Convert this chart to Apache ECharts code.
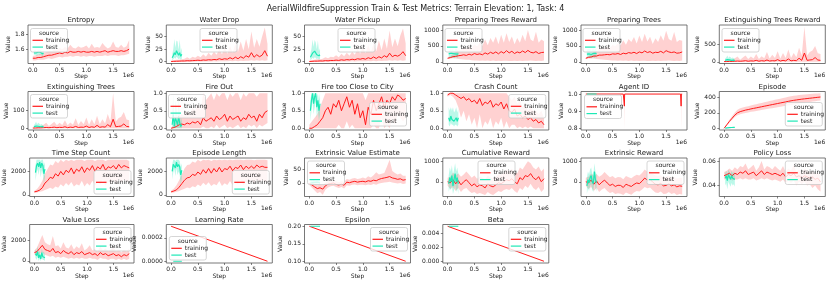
<!DOCTYPE html>
<html><head><meta charset="utf-8">
<script src="https://cdn.jsdelivr.net/npm/echarts@6/dist/echarts.min.js"></script>
<style>html,body{margin:0;padding:0;background:#fff}#c{width:831px;height:283px}</style>
</head><body><div id="c"></div><script>
const MAIN_TITLE = 'AerialWildfireSuppression Train & Test Metrics: Terrain Elevation: 1, Task: 4';
const TITLES = ['Entropy','Water Drop','Water Pickup','Preparing Trees Reward','Preparing Trees','Extinguishing Trees Reward','Extinguishing Trees','Fire Out','Fire too Close to City','Crash Count','Agent ID','Episode','Time Step Count','Episode Length','Extrinsic Value Estimate','Cumulative Reward','Extrinsic Reward','Policy Loss','Value Loss','Learning Rate','Epsilon','Beta'];
const X_TICKS = [0, 0.5, 1.0, 1.5];
// steps in units of 1e6
const STEPS = [0,0.05,0.1,0.15,0.2,0.25,0.3,0.35,0.4,0.45,0.5,0.55,0.6,0.65,0.7,0.75,0.8,0.85,0.9,0.95,1.0,1.05,1.1,1.15,1.2,1.25,1.3,1.35,1.4,1.45,1.5,1.55,1.6,1.65,1.7,1.75,1.8];
const TEST_STEPS = [0.02,0.04,0.06,0.08,0.1,0.12,0.14,0.16,0.18,0.2];
const ZEROS37 = [0,0,0,0,0,0,0,0,0,0,0,0,0,0,0,0,0,0,0,0,0,0,0,0,0,0,0,0,0,0,0,0,0,0,0,0,0];
const ZEROS10 = [0,0,0,0,0,0,0,0,0,0];

const ENTROPY_TRAIN = [1.48,1.48,1.49,1.49,1.50,1.51,1.52,1.52,1.53,1.54,1.55,1.54,1.56,1.55,1.57,1.56,1.56,1.57,1.56,1.57,1.56,1.56,1.57,1.56,1.57,1.56,1.57,1.58,1.56,1.57,1.58,1.57,1.57,1.58,1.57,1.58,1.60];
const ENTROPY_HI = [1.51,1.52,1.53,1.54,1.55,1.56,1.58,1.57,1.60,1.59,1.62,1.60,1.63,1.61,1.66,1.62,1.61,1.64,1.62,1.63,1.65,1.61,1.67,1.62,1.63,1.62,1.68,1.64,1.61,1.63,1.70,1.63,1.62,1.66,1.62,1.64,1.72];
const ENTROPY_LO = [1.45,1.45,1.46,1.46,1.46,1.47,1.48,1.47,1.48,1.49,1.50,1.49,1.50,1.50,1.51,1.50,1.51,1.51,1.50,1.51,1.50,1.51,1.51,1.50,1.51,1.51,1.51,1.52,1.51,1.52,1.52,1.52,1.51,1.52,1.52,1.53,1.54];
const ENTROPY_TEST = [1.55,1.56,1.55,1.54,1.56,1.55,1.56,1.55,1.54,1.55];
const ENTROPY_TEST_HI = [1.58,1.59,1.58,1.57,1.59,1.58,1.59,1.58,1.57,1.58];
const ENTROPY_TEST_LO = [1.52,1.53,1.52,1.51,1.53,1.52,1.53,1.52,1.51,1.52];

const WDROP_TRAIN = [0.5,0.8,1,1.2,1.5,1.5,2,1.8,2.2,2.5,3,2.5,3.5,3,4,3.5,4.5,4,6,4.5,6,5,8,5.5,9,6,10,7,12,9,18,9,14,10,13,22,11];
const WDROP_HI = [2,3,4,4,5,6,9,6,10,8,12,9,15,10,18,12,20,14,25,15,28,16,32,18,35,20,40,22,45,25,60,28,45,30,50,68,35];
const WDROP_LO = [0,0,0,0,0,0,0,0,0,0,0.5,0,0.5,0.5,0.5,0.5,1,0.5,1,1,1,1,1.5,1,2,1,2,1.5,2,2,3,2,3,2,3,2,3];
const WDROP_TEST = [8,12,18,14,22,19,13,18,11,15];
const WDROP_TEST_HI = [14,25,45,28,42,40,24,44,20,28];
const WDROP_TEST_LO = [3,5,8,6,10,8,5,7,4,6];

const WPICK_TRAIN = [0.5,0.8,1.2,1.2,1.6,1.4,2.2,1.8,2.5,2.4,3.2,2.6,3.8,3,4.2,3.6,5,4,6,5,6.5,5,8,6,9.5,6.5,10,7.5,12,9,17,10,13,11,14,20,12];
const WPICK_HI = [2,3,4,5,5,6,9,7,10,9,13,9,16,11,18,12,20,14,26,16,29,17,33,19,36,21,42,23,46,26,62,29,46,31,52,66,36];
const WPICK_LO = [0,0,0,0,0,0,0,0,0,0,0.5,0,0.5,0.5,0.5,0.5,1,0.5,1,1,1,1,1.5,1,2,1,2,1.5,2,2,3,2,3,2,3,2,3];
const WPICK_TEST = [9,13,17,15,21,18,14,17,12,14];
const WPICK_TEST_HI = [15,26,44,30,43,38,25,42,21,27];
const WPICK_TEST_LO = [3,5,8,6,9,8,5,7,4,6];

const PTR_TRAIN = [110,130,160,170,190,200,220,200,240,210,260,230,250,220,280,240,300,260,310,250,320,270,350,280,330,260,310,280,340,290,360,300,280,320,260,290,300];
const PTR_HI = [130,170,250,300,350,380,450,400,500,420,550,480,600,500,700,520,750,600,800,550,850,600,900,620,800,550,750,600,850,650,1000,700,650,950,600,700,650];
const PTR_LO = [90,100,110,100,90,80,70,60,60,50,40,40,30,40,30,40,20,40,20,30,20,30,30,20,20,30,20,30,20,30,30,40,30,20,30,20,40];
const PTR_TEST = [250,230,270,240,260,220,250,280,240,260];
const PTR_TEST_HI = [380,350,420,360,400,330,390,420,360,380];
const PTR_TEST_LO = [130,120,150,130,140,110,130,150,120,140];

const PT_TRAIN = [110,140,150,180,180,210,210,220,230,220,250,240,260,230,270,250,290,270,300,260,310,280,340,290,320,270,300,290,330,280,350,310,290,310,270,280,310];
const PT_HI = [130,180,240,320,330,400,430,420,480,440,530,500,580,520,680,540,720,620,780,580,830,620,880,640,790,560,740,620,840,660,980,720,660,940,620,690,660];
const PT_LO = [90,100,100,100,90,80,70,60,55,50,40,40,35,40,30,40,25,40,20,30,20,30,30,20,20,30,25,30,20,30,30,40,30,20,30,25,40];
const PT_TEST = [240,260,250,270,230,250,260,240,270,250];
const PT_TEST_HI = [370,400,380,410,350,380,400,360,410,380];
const PT_TEST_LO = [120,140,130,150,110,130,140,120,150,130];

const ETR_TRAIN = [5,5,10,10,15,20,15,20,30,15,25,20,40,15,30,20,50,20,30,25,60,20,40,25,80,25,40,30,100,40,250,40,50,60,120,50,40];
const ETR_HI = [15,20,40,60,100,150,60,120,180,80,150,90,220,80,160,100,280,90,200,110,300,90,250,110,350,110,250,130,400,180,1000,180,280,320,450,240,220];
const ETR_TEST = [40,50,60,45,55,50,40,50,45,30];
const ETR_TEST_HI = [90,120,180,110,150,130,100,120,100,70];
const ETR_TEST_LO = [10,15,20,12,18,15,10,15,12,8];

const ET_TRAIN = [1,1,2,2,3,4,3,4,6,3,5,4,8,3,6,4,10,4,6,5,12,4,8,5,16,5,8,6,20,8,50,8,10,12,24,10,8];
const ET_HI = [3,4,8,12,20,30,12,24,36,16,30,18,44,16,32,20,56,18,40,22,60,18,50,22,70,22,50,26,80,36,195,36,56,64,90,48,44];
const ET_TEST = [8,10,12,9,11,10,8,10,9,6];
const ET_TEST_HI = [18,24,36,22,30,26,20,24,20,14];
const ET_TEST_LO = [2,3,4,2,4,3,2,3,2,2];

const FO_TRAIN = [0,0.02,0.05,0.1,0.12,0.1,0.15,0.12,0.18,0.15,0.2,0.1,0.3,0.2,0.25,0.3,0.2,0.35,0.25,0.3,0.4,0.2,0.35,0.25,0.3,0.35,0.2,0.3,0.25,0.4,0.3,0.35,0.2,0.4,0.3,0.45,0.5];
const FO_HI = [0,0.1,0.2,0.3,0.4,0.35,0.5,0.4,0.6,0.5,0.7,0.5,1,0.8,0.9,1,0.8,1,0.9,1,1,0.8,1,0.9,1,1,0.8,1,0.9,1,1,1,0.9,1,1,1,1];
const FO_LO = [0,0,0,0,0,0,0,0,0,0,0,0,0.05,0,0,0.05,0,0.1,0,0.05,0.1,0,0.05,0,0.05,0.1,0,0.05,0,0.1,0.05,0.1,0,0.1,0.05,0.1,0.15];
const FO_TEST = [0.1,0.4,0.05,0.3,0.2,0.1,0.35,0.15,0.05,0.1];
const FO_TEST_HI = [0.3,1,0.2,0.8,0.6,0.3,0.9,0.5,0.2,0.3];

const FC_TRAIN = [0,0,0.05,0.1,0.2,0.3,0.5,0.6,0.4,0.7,0.6,0.8,0.5,0.7,0.9,0.6,0.8,0.4,0.7,0.3,0.5,0.1,0.6,0.4,0.8,0.5,0.7,0.9,0.6,0.8,0.7,0.9,0.8,0.95,0.9,0.8,0.85];
const FC_HI = [0.1,0.2,0.3,0.4,0.6,0.8,1,1,1,1,1,1,1,1,1,1,1,1,1,1,1,0.8,1,1,1,1,1,1,1,1,1,1,1,1,1,1,1];
const FC_LO = [0,0,0,0,0,0,0,0,0,0,0,0.1,0,0,0.2,0,0.1,0,0,0,0,0,0,0,0.1,0,0,0.3,0,0.1,0,0.3,0.1,0.4,0.3,0.2,0.3];
const FC_TEST = [0.5,0.8,1.0,0.7,0.9,1.0,0.6,0.8,0.5,0.7];
const FC_TEST_HI = [0.8,1,1,1,1,1,0.9,1,0.8,1];
const FC_TEST_LO = [0.2,0.5,0.8,0.4,0.6,0.8,0.3,0.5,0.2,0.4];

const CC_TRAIN = [0.95,1,1,0.95,0.9,0.85,0.9,0.8,0.85,0.75,0.8,0.7,0.85,0.65,0.75,0.7,0.8,0.6,0.7,0.65,0.75,0.55,0.7,0.5,0.45,0.55,0.35,0.4,0.3,0.35,0.25,0.3,0.2,0.25,0.15,0.2,0.1];
const CC_HI = [1,1,1,1,1,1,1,1,1,1,1,1,1,1,1,1,1,1,1,1,1,1,1,0.9,0.8,0.9,0.7,0.8,0.6,0.7,0.5,0.6,0.5,0.5,0.4,0.5,0.3];
const CC_LO = [0.9,0.95,0.9,0.8,0.6,0.3,0.5,0.2,0.4,0.1,0.3,0,0.4,0,0.2,0.1,0.3,0,0.2,0.1,0.3,0,0.2,0,0.1,0.1,0,0.05,0,0.05,0,0.05,0,0,0,0,0];
const CC_TEST = [0.3,0.2,0.35,0.25,0.3,0.2,0.25,0.3,0.2,0.3];
const CC_TEST_HI = [0.6,0.5,0.6,0.5,0.6,0.45,0.5,0.6,0.45,0.55];
const CC_TEST_LO = [0.1,0.05,0.15,0.1,0.1,0.05,0.1,0.1,0.05,0.1];

const AGENT_STEPS = [0,0.7,0.715,0.72,0.725,1.77,1.775,1.78,1.785,1.8];
const AGENT_TRAIN = [1,1,1,0.93,1,1,1,0.93,1,1];
const AGENT_HI = [1,1,1,1,1,1,1,1,1,1];
const AGENT_LO = [1,1,1,0.792,1,1,1,0.792,1,1];
const AGENT_TEST = [1,1,1,1,1,1,1,1,1,1];

const EP_TRAIN = [0,45,90,130,170,200,215,225,235,242,250,257,264,271,278,285,292,299,306,313,320,327,334,341,348,355,361,366,371,376,380,384,388,392,396,400,404];
const EP_HI = [0,55,110,160,205,240,258,268,278,286,295,303,311,319,327,335,343,351,359,367,375,383,391,399,406,413,419,424,429,433,437,440,443,446,448,450,452];
const EP_LO = [0,35,75,110,145,170,180,190,198,205,212,218,224,230,236,242,248,254,260,266,272,278,284,290,296,302,308,314,320,325,330,335,340,345,350,355,360];
const EP_TEST = [1,3,5,7,8,9,10,11,12,12];

const TSC_TRAIN = [250,300,400,600,1000,1200,1500,1400,1800,1600,2000,1700,2100,1900,2300,1800,2200,2000,2400,1900,2300,2100,2500,2000,2400,2200,2600,2100,2400,2300,2500,2200,2600,2300,2500,2400,2300];
const TSC_HI = [350,500,800,1200,1800,2200,2600,2500,2900,2700,3000,2800,3000,2900,3000,2900,3000,3000,3000,2900,3000,3000,3000,2900,3000,3000,3000,2900,3000,3000,3000,3000,3000,3000,3000,3000,2900];
const TSC_LO = [150,200,250,300,400,500,600,500,700,600,900,700,1000,800,1100,700,900,800,1200,700,1000,800,1200,800,1100,900,1300,800,1100,1000,1300,900,1400,1000,1300,1100,1200];
const TSC_TEST = [1900,2500,2700,2400,2800,2300,2700,2500,1800,2200];
const TSC_TEST_HI = [2500,3000,3000,3000,3000,2900,3000,3000,2500,2800];
const TSC_TEST_LO = [1200,1800,2200,1700,2300,1500,2100,1800,1000,1500];

const EL_TRAIN = [250,320,420,650,950,1250,1450,1500,1750,1650,1950,1750,2150,1850,2250,1850,2250,1950,2350,1950,2250,2150,2450,2050,2350,2250,2550,2150,2450,2250,2450,2250,2550,2350,2450,2350,2350];
const EL_HI = [350,520,820,1250,1750,2250,2550,2600,2850,2750,3000,2850,3000,2950,3000,2900,3000,2950,3000,2950,3000,2950,3000,2950,3000,3000,3000,2950,3000,3000,3000,2950,3000,3000,3000,3000,2950];
const EL_LO = [150,200,260,320,420,520,620,560,720,640,880,720,1020,820,1080,740,920,820,1180,740,980,840,1180,820,1080,920,1280,820,1120,980,1280,920,1380,1020,1280,1120,1180];
const EL_TEST = [2000,2600,2700,2300,2800,2400,2600,2400,1700,2100];
const EL_TEST_HI = [2600,3000,3000,2900,3000,3000,3000,2900,2400,2700];
const EL_TEST_LO = [1300,1900,2200,1600,2300,1700,2000,1700,900,1400];

const EVE_TRAIN = [0,-5,-12,-18,-15,-20,-8,-2,0,2,-3,-5,-2,-6,5,3,6,8,5,7,8,6,10,8,12,10,15,18,20,22,25,20,18,15,17,12,14];
const EVE_HI = [5,2,-2,-6,-3,-6,4,8,10,12,8,5,8,6,16,14,18,20,16,18,22,18,26,22,30,40,32,35,38,60,85,45,38,32,36,28,28];
const EVE_LO = [-5,-15,-25,-35,-30,-40,-22,-14,-10,-8,-12,-16,-12,-18,-6,-8,-4,-3,-6,-4,-4,-6,-3,-5,-2,-4,0,2,4,5,6,4,2,0,2,-2,0];
const EVE_TEST = [2,5,3,6,4,2,5,3,4,2];
const EVE_TEST_HI = [8,12,10,14,10,8,12,9,10,8];
const EVE_TEST_LO = [-4,-2,-4,-2,-3,-4,-2,-4,-3,-4];

const CR_TRAIN = [0,-50,100,-100,50,-150,0,100,-50,-200,-100,-250,-150,-200,-300,-100,-200,-250,-150,-50,-100,0,100,50,150,0,-100,200,100,300,250,400,200,100,250,0,150];
const CR_HI = [200,250,450,300,400,250,350,500,350,200,300,150,250,200,100,300,200,150,250,350,350,450,600,500,650,450,400,700,600,800,1000,900,700,600,750,500,650];
const CR_LO = [-200,-350,-250,-450,-300,-500,-350,-300,-450,-550,-500,-600,-550,-600,-650,-500,-600,-650,-550,-450,-500,-400,-350,-400,-300,-450,-550,-300,-400,-200,-300,-100,-300,-400,-250,-500,-350];
const CR_TEST = [-100,200,0,300,-200,100,400,0,200,-100];
const CR_TEST_HI = [300,700,500,800,300,600,900,500,700,400];
const CR_TEST_LO = [-500,-300,-400,-200,-600,-400,-100,-500,-300,-600];

const ER_TRAIN = [0,-50,80,-120,40,-150,-20,80,-60,-180,-120,-230,-170,-180,-280,-120,-180,-230,-130,-60,-90,30,180,80,120,-20,-120,-150,-80,-200,-180,-100,-200,-150,-250,-200,-220];
const ER_HI = [200,250,400,280,380,250,330,480,340,220,280,170,230,220,120,280,220,170,270,340,310,430,600,480,520,380,300,280,320,200,250,300,200,250,150,200,180];
const ER_LO = [-200,-350,-250,-450,-300,-500,-380,-300,-450,-550,-500,-600,-560,-580,-650,-520,-580,-630,-530,-450,-480,-380,-250,-320,-280,-420,-520,-550,-480,-600,-580,-500,-600,-550,-650,-600,-620];
const ER_TEST = [-200,100,-50,200,300,0,-100,500,100,-50];
const ER_TEST_HI = [200,500,350,600,700,400,300,900,500,350];
const ER_TEST_LO = [-600,-300,-450,-200,-100,-400,-500,100,-300,-450];

const PL_TRAIN = [0.048,0.049,0.05,0.048,0.05,0.049,0.051,0.05,0.052,0.049,0.05,0.051,0.048,0.05,0.052,0.049,0.051,0.05,0.049,0.05,0.049,0.048,0.05,0.047,0.049,0.048,0.05,0.047,0.048,0.046,0.048,0.047,0.046,0.047,0.045,0.046,0.043];
const PL_HI = [0.051,0.052,0.054,0.052,0.055,0.053,0.056,0.055,0.058,0.053,0.055,0.057,0.052,0.055,0.060,0.053,0.056,0.055,0.053,0.056,0.054,0.052,0.056,0.051,0.054,0.052,0.057,0.051,0.053,0.050,0.054,0.052,0.050,0.052,0.049,0.051,0.048];
const PL_LO = [0.045,0.046,0.046,0.044,0.045,0.045,0.046,0.045,0.046,0.045,0.045,0.046,0.044,0.045,0.046,0.045,0.046,0.045,0.044,0.045,0.044,0.043,0.045,0.042,0.044,0.042,0.044,0.040,0.043,0.041,0.043,0.040,0.041,0.038,0.040,0.037,0.035];
const PL_TEST = [0.046,0.048,0.044,0.049,0.047,0.045,0.048,0.046,0.047,0.045];
const PL_TEST_HI = [0.050,0.052,0.049,0.053,0.051,0.049,0.052,0.050,0.051,0.049];
const PL_TEST_LO = [0.040,0.042,0.037,0.043,0.041,0.039,0.042,0.040,0.041,0.039];

const VL_TRAIN = [800,900,1200,1500,1100,1000,900,1200,800,900,700,1000,800,700,900,600,800,700,900,600,700,800,600,700,500,800,600,700,500,600,700,500,600,400,600,500,700];
const VL_HI = [1000,1300,1900,2500,1800,1600,1500,2400,1400,1500,1200,1800,1300,1200,1600,1100,1400,1200,1700,1000,1200,1500,1000,1200,900,1400,1000,1200,900,1100,1300,900,1100,800,1100,900,1200];
const VL_LO = [600,600,700,800,600,500,400,500,300,400,300,400,300,200,300,200,300,200,300,200,200,300,200,200,100,300,200,200,100,200,200,100,200,100,200,100,200];
const VL_TEST = [700,500,900,300,600,200,800,400,500,300];
const VL_TEST_HI = [1100,900,1400,700,1000,500,1200,800,900,600];
const VL_TEST_LO = [300,100,400,0,200,0,300,100,100,0];

const SCHED_STEPS = [0, 1.8];
const LR_TRAIN = [0.0003, 0];
const LR_TEST_STEPS = [0.04, 0.2];
const LR_TEST = [0, 0];
const EPS_TRAIN = [0.2, 0.1];
const SCHED_TEST_STEPS = [0.02, 0.2];
const EPS_TEST = [0.2, 0.2];
const BETA_TRAIN = [0.005, 0];
const BETA_TEST = [0.005, 0.005];

// y tick values per panel
const Y_TICKS = [[1.6,1.8],[0,25,50],[0,25,50],[0,500,1000],[0,500,1000],[0,500],[0,100],[0,0.5,1.0],[0,0.5,1.0],[0,0.5,1.0],[0.8,0.9,1.0],[0,200,400],[0,2000],[0,2000],[0,50],[0,1000],[0,1000],[0.04,0.06],[0,2000],[0,0.0002],[0.10,0.15,0.20],[0,0.002,0.004]];

const S = STEPS, T = TEST_STEPS;
const PANELS = [
 {x:S,y:ENTROPY_TRAIN,lo:ENTROPY_LO,hi:ENTROPY_HI,tx:T,ty:ENTROPY_TEST,tlo:ENTROPY_TEST_LO,thi:ENTROPY_TEST_HI,dec:1,ymin:1.41,ymax:1.92,gap:12,leg:[30.5,28.5]},
 {x:S,y:WDROP_TRAIN,lo:WDROP_LO,hi:WDROP_HI,tx:T,ty:WDROP_TEST,tlo:WDROP_TEST_LO,thi:WDROP_TEST_HI,dec:0,ymin:-3.5,ymax:73,gap:10.5,leg:[200,28.5]},
 {x:S,y:WPICK_TRAIN,lo:WPICK_LO,hi:WPICK_HI,tx:T,ty:WPICK_TEST,tlo:WPICK_TEST_LO,thi:WPICK_TEST_HI,dec:0,ymin:-3.5,ymax:73,gap:10.5,leg:[338,28.5]},
 {x:S,y:PTR_TRAIN,lo:PTR_LO,hi:PTR_HI,tx:T,ty:PTR_TEST,tlo:PTR_TEST_LO,thi:PTR_TEST_HI,dec:0,ymin:-55,ymax:1160,gap:16,leg:[445,28.5]},
 {x:S,y:PT_TRAIN,lo:PT_LO,hi:PT_HI,tx:T,ty:PT_TEST,tlo:PT_TEST_LO,thi:PT_TEST_HI,dec:0,ymin:-55,ymax:1160,gap:16,leg:[583,28.5]},
 {x:S,y:ETR_TRAIN,lo:ZEROS37,hi:ETR_HI,tx:T,ty:ETR_TEST,tlo:ETR_TEST_LO,thi:ETR_TEST_HI,dec:0,ymin:-50,ymax:1050,gap:13.5,leg:[722,28.5]},
 {x:S,y:ET_TRAIN,lo:ZEROS37,hi:ET_HI,tx:T,ty:ET_TEST,tlo:ET_TEST_LO,thi:ET_TEST_HI,dec:0,ymin:-10,ymax:205,gap:14,leg:[30.5,94.5]},
 {x:S,y:FO_TRAIN,lo:FO_LO,hi:FO_HI,tx:T,ty:FO_TEST,tlo:ZEROS10,thi:FO_TEST_HI,dec:1,ymin:-0.05,ymax:1.05,gap:12,leg:[168.5,94.5]},
 {x:S,y:FC_TRAIN,lo:FC_LO,hi:FC_HI,tx:T,ty:FC_TEST,tlo:FC_TEST_LO,thi:FC_TEST_HI,dec:1,ymin:-0.05,ymax:1.05,gap:12.5,leg:[369.5,102.5]},
 {x:S,y:CC_TRAIN,lo:CC_LO,hi:CC_HI,tx:T,ty:CC_TEST,tlo:CC_TEST_LO,thi:CC_TEST_HI,dec:1,ymin:-0.05,ymax:1.05,gap:12.5,leg:[508.8,94.5]},
 {x:AGENT_STEPS,y:AGENT_TRAIN,lo:AGENT_LO,hi:AGENT_HI,tx:T,ty:AGENT_TEST,dec:1,ymin:0.792,ymax:1.0148,gap:14,leg:[584.5,95]},
 {x:S,y:EP_TRAIN,lo:EP_LO,hi:EP_HI,tx:T,ty:EP_TEST,dec:0,ymin:-22,ymax:475,gap:13.5,leg:[785.3,102.5]},
 {x:S,y:TSC_TRAIN,lo:TSC_LO,hi:TSC_HI,tx:T,ty:TSC_TEST,tlo:TSC_TEST_LO,thi:TSC_TEST_HI,dec:0,ymin:-150,ymax:3150,gap:15,leg:[94,170.5]},
 {x:S,y:EL_TRAIN,lo:EL_LO,hi:EL_HI,tx:T,ty:EL_TEST,tlo:EL_TEST_LO,thi:EL_TEST_HI,dec:0,ymin:-150,ymax:3150,gap:15,leg:[232.3,170.5]},
 {x:S,y:EVE_TRAIN,lo:EVE_LO,hi:EVE_HI,tx:T,ty:EVE_TEST,tlo:EVE_TEST_LO,thi:EVE_TEST_HI,dec:0,ymin:-46.25,ymax:91.25,gap:11,leg:[307.5,161]},
 {x:S,y:CR_TRAIN,lo:CR_LO,hi:CR_HI,tx:T,ty:CR_TEST,tlo:CR_TEST_LO,thi:CR_TEST_HI,dec:0,ymin:-720,ymax:1160,gap:16,leg:[478,161]},
 {x:S,y:ER_TRAIN,lo:ER_LO,hi:ER_HI,tx:T,ty:ER_TEST,tlo:ER_TEST_LO,thi:ER_TEST_HI,dec:0,ymin:-720,ymax:1160,gap:16.5,leg:[647,161]},
 {x:S,y:PL_TRAIN,lo:PL_LO,hi:PL_HI,tx:T,ty:PL_TEST,tlo:PL_TEST_LO,thi:PL_TEST_HI,dec:2,ymin:0.031,ymax:0.0625,gap:17,leg:[785.3,161]},
 {x:S,y:VL_TRAIN,lo:VL_LO,hi:VL_HI,tx:T,ty:VL_TEST,tlo:VL_TEST_LO,thi:VL_TEST_HI,dec:0,ymin:-200,ymax:3500,gap:17.5,leg:[94,227.5]},
 {x:SCHED_STEPS,y:LR_TRAIN,tx:LR_TEST_STEPS,ty:LR_TEST,dec:4,ymin:-0.000015,ymax:0.000315,gap:21,leg:[169.3,236.5]},
 {x:SCHED_STEPS,y:EPS_TRAIN,tx:SCHED_TEST_STEPS,ty:EPS_TEST,dec:2,ymin:0.095,ymax:0.205,gap:14,leg:[370.5,227.5]},
 {x:SCHED_STEPS,y:BETA_TRAIN,tx:SCHED_TEST_STEPS,ty:BETA_TEST,dec:3,ymin:-0.00025,ymax:0.00525,gap:17,leg:[508.8,227.5]}
];

const COLS=[28,166.3,304.5,442.8,581,719.3], ROWS=[25,91.5,158,224.5], W=106, H=38.5;
const RED='#ff1a1a', TEAL='#1de9b6';
const RED_BAND='rgba(255,26,26,0.2)', TEAL_BAND='rgba(29,233,182,0.3)';
const FONT='"DejaVu Sans", sans-serif';
const TXT='#1a1a1a';

function band(xs, lo, hi, fill, idx){
  return {type:'custom', xAxisIndex:idx, yAxisIndex:idx, silent:true, z:1,
    data:[[xs[0], lo[0]]],
    renderItem:function(params, api){
      const pts=[];
      for(let k=0;k<xs.length;k++) pts.push(api.coord([xs[k], hi[k]]));
      for(let k=xs.length-1;k>=0;k--) pts.push(api.coord([xs[k], lo[k]]));
      return {type:'polygon', shape:{points:pts}, style:{fill:fill}};
    }};
}
function line(name, xs, ys, color, idx, z, w){
  return {type:'line', name:name, xAxisIndex:idx, yAxisIndex:idx, data:xs.map((x,k)=>[x,ys[k]]),
    symbol:'none', showSymbol:false, silent:true, z:z, lineStyle:{color:color, width:w}, itemStyle:{color:color},
    emphasis:{disabled:true}};
}
function txt(text, x, y, size, align, va){
  return {type:'text', x:x, y:y, z:100, silent:true, style:{text:text, font:size+'px '+FONT, fill:TXT, align:align, verticalAlign:va, textAlign:align, textVerticalAlign:va}};
}

const grids=[], xAxes=[], yAxes=[], series=[], graphics=[];
graphics.push(txt(MAIN_TITLE, 415.5, 9, 8, 'center', 'middle'));

PANELS.forEach((p,i)=>{
  const L=COLS[i%6], Tp=ROWS[Math.floor(i/6)];
  grids.push({left:L, top:Tp, width:W, height:H, show:true, borderColor:'#555', borderWidth:0.8, backgroundColor:'rgba(0,0,0,0)'});
  xAxes.push({gridIndex:i, type:'value', min:-0.09, max:1.89, splitLine:{show:false}, axisLine:{show:false, onZero:false},
    axisTick:{show:true, length:2, customValues:X_TICKS, lineStyle:{color:'#333', width:0.6}},
    axisLabel:{show:true, customValues:X_TICKS, formatter:v=>v.toFixed(1), fontSize:6, color:TXT, margin:3.5, fontFamily:FONT},
    name:'Step', nameLocation:'middle', nameGap:10, nameTextStyle:{fontSize:6, color:TXT, fontFamily:FONT}});
  const yt = Y_TICKS[i];
  yAxes.push({gridIndex:i, type:'value', min:p.ymin, max:p.ymax, splitLine:{show:false}, axisLine:{show:false, onZero:false},
    axisTick:{show:true, length:2, customValues:yt, lineStyle:{color:'#333', width:0.6}},
    axisLabel:{show:true, customValues:yt, formatter:v=>v.toFixed(p.dec), fontSize:6, color:TXT, margin:3.5, fontFamily:FONT},
    name:'Value', nameLocation:'middle', nameGap:p.gap, nameRotate:90, nameTextStyle:{fontSize:6, color:TXT, fontFamily:FONT}});
  if(p.lo) series.push(band(p.x, p.lo, p.hi, RED_BAND, i));
  series.push(line('training', p.x, p.y, RED, i, 3, 1));
  if(p.tlo) series.push(band(p.tx, p.tlo, p.thi, TEAL_BAND, i));
  series.push(line('test', p.tx, p.ty, TEAL, i, 4, 1.2));

  graphics.push(txt(TITLES[i], L+W/2, Tp-4.5, 7, 'center', 'middle'));
  graphics.push(txt('1e6', L+W, Tp+H+12, 6, 'right', 'middle'));
  const lx=p.leg[0], ly=p.leg[1];
  graphics.push({type:'group', x:lx, y:ly, z:100, silent:true, children:[
    {type:'rect', z:100, shape:{x:0,y:0,width:37,height:23.5,r:2}, style:{fill:'rgba(255,255,255,0.8)', stroke:'#cccccc', lineWidth:0.8}},
    Object.assign(txt('source', 18.5, 4.8, 6, 'center', 'middle'), {z:101}),
    {type:'line', z:101, shape:{x1:2,y1:11.8,x2:12.5,y2:11.8}, style:{stroke:RED, lineWidth:1.2}},
    Object.assign(txt('training', 15.5, 11.8, 6, 'left', 'middle'), {z:101}),
    {type:'line', z:101, shape:{x1:2,y1:18.6,x2:12.5,y2:18.6}, style:{stroke:TEAL, lineWidth:1.2}},
    Object.assign(txt('test', 15.5, 18.6, 6, 'left', 'middle'), {z:101})
  ]});
});

const chart = echarts.init(document.getElementById('c'), null, {renderer:'canvas'});
chart.setOption({animation:false, textStyle:{fontFamily:FONT}, grid:grids, xAxis:xAxes, yAxis:yAxes, series:series, graphic:graphics});
</script></body></html>
